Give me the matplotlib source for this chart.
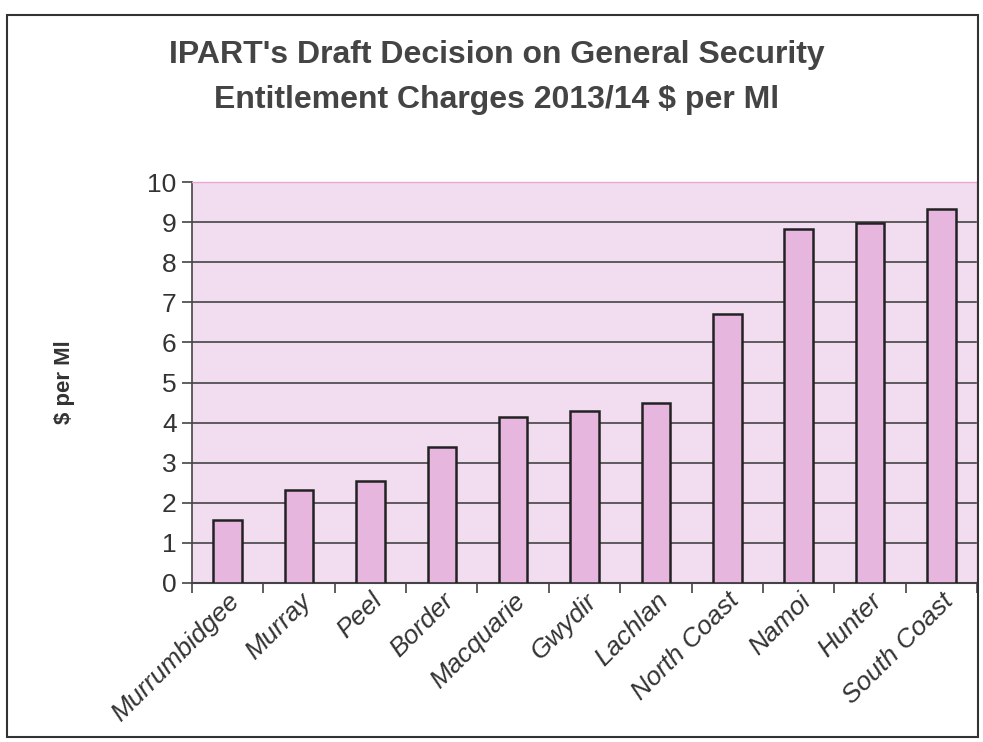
import matplotlib
matplotlib.use("Agg")
import matplotlib.pyplot as plt
import numpy as np
from matplotlib.patches import Rectangle

categories = ["Murrumbidgee", "Murray", "Peel", "Border", "Macquarie", "Gwydir",
              "Lachlan", "North Coast", "Namoi", "Hunter", "South Coast"]
values = [1.57, 2.33, 2.54, 3.39, 4.13, 4.30, 4.50, 6.71, 8.82, 8.99, 9.32]
yticks = list(range(0, 11))

plt.rcParams['font.family'] = ['Liberation Sans', 'DejaVu Sans']

fig = plt.figure(figsize=(9.83, 7.42), dpi=100)
fig.patch.set_facecolor('white')

# outer frame
fig.patches.append(Rectangle((7/983, 1 - 737/742), (978-7)/983, (737-15)/742,
                             transform=fig.transFigure, fill=False,
                             edgecolor='#333333', linewidth=1.5))

ax = fig.add_axes([192/983, 1 - 583/742, (977-192)/983, (583-182)/742])
ax.set_facecolor('#f2dcef')
x = np.arange(len(categories))
ax.bar(x, values, width=0.4, color='#e6b6de', edgecolor='#222222', linewidth=1.8, zorder=3)

ax.set_xlim(-0.5, len(categories) - 0.5)
ax.set_ylim(0, 10)
ax.set_yticks(yticks)
ax.set_yticklabels([str(t) for t in yticks], fontsize=19, color='#333333')
ax.yaxis.grid(True, color='#444444', linewidth=1.2, zorder=1)
ax.set_axisbelow(True)

ax.set_xticks(np.arange(-0.5, len(categories) - 0.4, 1.0))
ax.set_xticklabels([])
ax.set_xticks(x, minor=True)
ax.set_xticklabels(categories, minor=True, rotation=45, ha='right', va='top',
                   rotation_mode='anchor', fontsize=19, style='italic', color='#333333')
ax.tick_params(axis='x', which='minor', length=0, pad=4)
ax.tick_params(axis='x', which='major', length=7, color='#444444', width=1.2)
ax.tick_params(axis='y', length=7, color='#444444', width=1.2, pad=4)

for s in ['top', 'right']:
    ax.spines[s].set_color('#e6a8d8')
    ax.spines[s].set_linewidth(1)
ax.spines['left'].set_color('#444444')
ax.spines['bottom'].set_color('#444444')
ax.spines['left'].set_linewidth(1.2)
ax.spines['bottom'].set_linewidth(1.5)

ax.set_ylabel("$ per Ml", fontsize=16, fontweight='bold', color='#333333', labelpad=52)

fig.text(497/983, 1 - 55/742, "IPART's Draft Decision on General Security",
         ha='center', va='center', fontsize=23, fontweight='bold', color='#444444')
fig.text(497/983, 1 - 100/742, "Entitlement Charges 2013/14 $ per Ml",
         ha='center', va='center', fontsize=23, fontweight='bold', color='#444444')

fig.savefig("out.png", dpi=100, facecolor='white')
